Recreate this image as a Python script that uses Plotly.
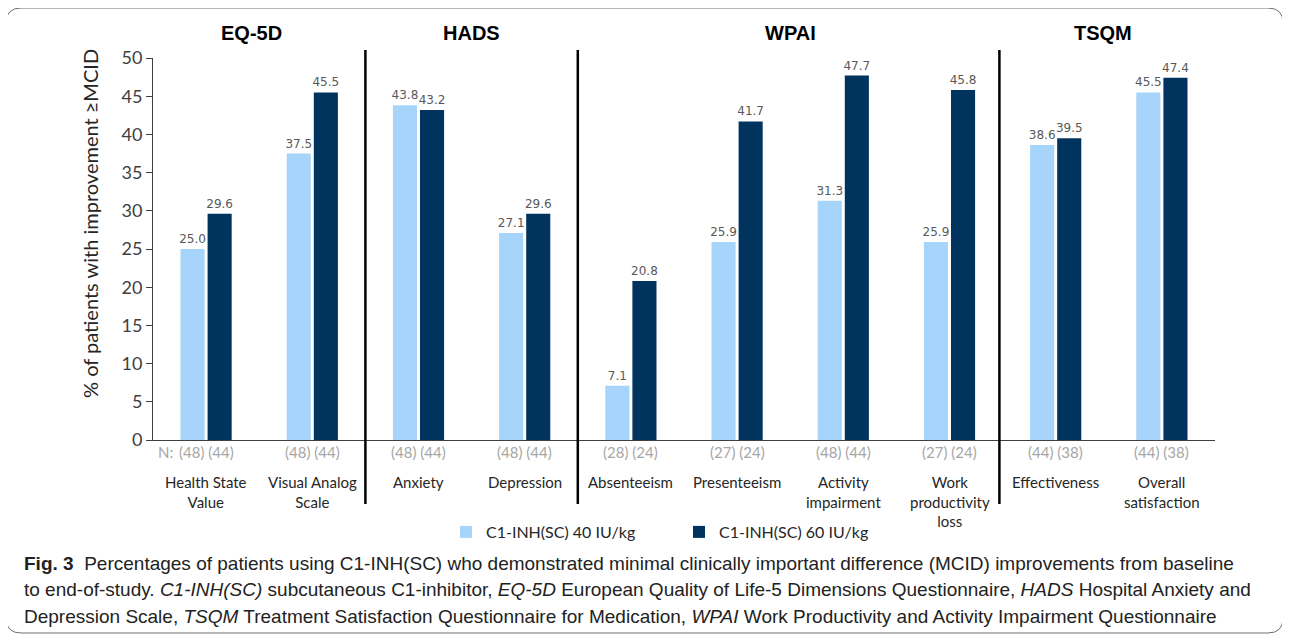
import plotly.graph_objects as go

# ---------------- data ----------------
categories = ["Health State<br>Value", "Visual Analog<br>Scale", "Anxiety", "Depression",
              "Absenteeism", "Presenteeism", "Activity<br>impairment",
              "Work<br>productivity<br>loss", "Effectiveness", "Overall<br>satisfaction"]
series_names = ["C1-INH(SC) 40 IU/kg", "C1-INH(SC) 60 IU/kg"]
values_40 = [25.0, 37.5, 43.8, 27.1, 7.1, 25.9, 31.3, 25.9, 38.6, 45.5]
values_60 = [29.6, 45.5, 43.2, 29.6, 20.8, 41.7, 47.7, 45.8, 39.5, 47.4]
n_40 = [48, 48, 48, 48, 28, 27, 48, 27, 44, 44]
n_60 = [44, 44, 44, 44, 24, 24, 44, 24, 38, 38]
groups = ["EQ-5D", "HADS", "WPAI", "TSQM"]
y_ticks = [0, 5, 10, 15, 20, 25, 30, 35, 40, 45, 50]
y_title = "% of patients with improvement ≥MCID"
caption_lines = [
    "<b>Fig. 3</b>  Percentages of patients using C1-INH(SC) who demonstrated minimal clinically important difference (MCID) improvements from baseline",
    "to end-of-study. <i>C1-INH(SC)</i> subcutaneous C1-inhibitor, <i>EQ-5D</i> European Quality of Life-5 Dimensions Questionnaire, <i>HADS</i> Hospital Anxiety and",
    "Depression Scale, <i>TSQM</i> Treatment Satisfaction Questionnaire for Medication, <i>WPAI</i> Work Productivity and Activity Impairment Questionnaire",
]

# ---------------- layout geometry (pixels) ----------------
OFF = 8  # page body margin
W, H = 1290 - OFF, 636 - OFF
L, T = 153 - OFF, 58 - OFF
PR, PB = 1215 - OFF, 440 - OFF
R, B = W - PR, H - PB
PW, PH = PR - L, PB - T


def px(xs):
    return (xs - OFF - L) / PW


def py(ys):
    return (PB - (ys - OFF)) / PH


LIGHT = "#A6D4FA"
DARK = "#00345F"
label_font = dict(family="DejaVu Sans", size=12, color="#595959")

fig = go.Figure()
for name, vals, col in [(series_names[0], values_40, LIGHT), (series_names[1], values_60, DARK)]:
    fig.add_trace(go.Bar(
        x=categories, y=vals, name=name, marker=dict(color=col, line=dict(width=0)),
        texttemplate="%{y:.1f}", textposition="outside", textfont=label_font,
        constraintext="none", cliponaxis=False,
    ))

annotations = []
for i, c in enumerate(categories):
    annotations.append(dict(x=c, xref="x", y=py(452), yref="paper", yanchor="middle",
                            text=f"({n_40[i]}) ({n_60[i]})", showarrow=False,
                            font=dict(family="Lato", size=15, color="#A6A6A6")))
    annotations.append(dict(x=c, xref="x", y=py(471), yref="paper", yanchor="top",
                            text=c, showarrow=False, align="center",
                            font=dict(family="Lato", size=15, color="#262626")))
annotations.append(dict(x=px(175), xref="paper", y=py(452), yref="paper", xanchor="right",
                        yanchor="middle", text="N:", showarrow=False,
                        font=dict(family="Lato", size=15, color="#A6A6A6")))
group_pos = [0.43, 2.5, 5.5, 8.45]
for g, gx in zip(groups, group_pos):
    annotations.append(dict(x=gx, xref="x", y=py(33), yref="paper", yanchor="middle",
                            text=f"<b>{g}</b>", showarrow=False,
                            font=dict(family="Liberation Sans", size=20, color="#000000")))
annotations.append(dict(x=px(90), xref="paper", y=py(224), yref="paper", textangle=-90,
                        xanchor="center", yanchor="middle", text=y_title, showarrow=False,
                        font=dict(family="Lato", size=20, color="#262626")))
for k, line in enumerate(caption_lines):
    annotations.append(dict(x=px(22), xref="paper", y=py(563 + k * 26.5), yref="paper",
                            xanchor="left", yanchor="middle", text=line, showarrow=False,
                            align="left",
                            font=dict(family="Liberation Sans", size=19, color="#222222")))

shapes = []
for sx in [1.5, 3.5, 7.47]:
    shapes.append(dict(type="line", xref="x", yref="paper", x0=sx, x1=sx,
                       y0=py(504), y1=py(50), line=dict(color="#000000", width=2.5)))
x0, x1, y0, y1 = px(6), px(1283), py(8), py(633)
rx, ry = 15 / PW, 15 / PH
path = (f"M {x0 + rx},{y0} L {x1 - rx},{y0} Q {x1},{y0} {x1},{y0 - ry} "
        f"L {x1},{y1 + ry} Q {x1},{y1} {x1 - rx},{y1} L {x0 + rx},{y1} "
        f"Q {x0},{y1} {x0},{y1 + ry} L {x0},{y0 - ry} Q {x0},{y0} {x0 + rx},{y0} Z")
shapes.append(dict(type="path", xref="paper", yref="paper", path=path,
                   line=dict(color="#6E6E6E", width=1), fillcolor="rgba(0,0,0,0)"))

fig.update_layout(
    width=W, height=H, margin=dict(l=L, r=R, t=T, b=B, autoexpand=False),
    paper_bgcolor="white", plot_bgcolor="white",
    barmode="group", bargap=0.49, bargroupgap=0.11,
    showlegend=True,
    legend=dict(orientation="h", x=px(446), xanchor="left", y=py(532), yanchor="middle",
                entrywidth=188, entrywidthmode="pixels",
                font=dict(family="Lato", size=16, color="#262626"), bgcolor="rgba(0,0,0,0)"),
    xaxis=dict(range=[-0.5, 9.5], showticklabels=False, ticks="", showline=True,
               linecolor="#404040", linewidth=1, showgrid=False, zeroline=False),
    yaxis=dict(range=[0, 50], tickvals=y_ticks, ticks="outside", ticklen=6, tickcolor="#404040",
               showline=True, linecolor="#404040", linewidth=1, showgrid=False, zeroline=False,
               tickfont=dict(family="Lato", size=18, color="#404040")),
    annotations=annotations, shapes=shapes,
)

fig.write_html("out.html")
